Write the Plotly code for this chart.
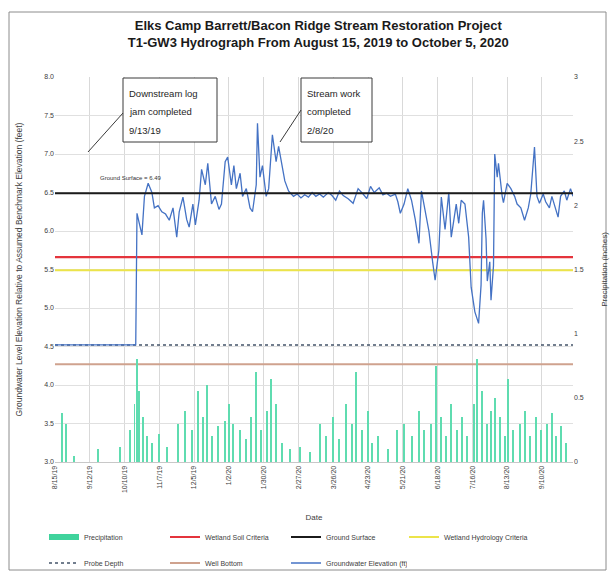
import plotly.graph_objects as go

# ---- groundwater record (T1-GW3), elevation in feet ----
GW_DATES = [
    "2019-08-15", "2019-10-19", "2019-10-20", "2019-10-21", "2019-10-24", "2019-10-26",
    "2019-10-29", "2019-11-01", "2019-11-03", "2019-11-06", "2019-11-09", "2019-11-12",
    "2019-11-15", "2019-11-18", "2019-11-21", "2019-11-23", "2019-11-26", "2019-11-29",
    "2019-12-01", "2019-12-04", "2019-12-06", "2019-12-09", "2019-12-11", "2019-12-14",
    "2019-12-16", "2019-12-19", "2019-12-22", "2019-12-25", "2019-12-27", "2019-12-30",
    "2020-01-01", "2020-01-04", "2020-01-06", "2020-01-08", "2020-01-11", "2020-01-13",
    "2020-01-16", "2020-01-19", "2020-01-21", "2020-01-24", "2020-01-25", "2020-01-27",
    "2020-01-29", "2020-02-01", "2020-02-03", "2020-02-06", "2020-02-09", "2020-02-11",
    "2020-02-14", "2020-02-16", "2020-02-19", "2020-02-23", "2020-02-26", "2020-02-29",
    "2020-03-03", "2020-03-06", "2020-03-09", "2020-03-12", "2020-03-15", "2020-03-18",
    "2020-03-22", "2020-03-25", "2020-03-28", "2020-03-31", "2020-04-03", "2020-04-07",
    "2020-04-11", "2020-04-15", "2020-04-19", "2020-04-22", "2020-04-25", "2020-04-28",
    "2020-05-02", "2020-05-05", "2020-05-08", "2020-05-11", "2020-05-15", "2020-05-17",
    "2020-05-19", "2020-05-22", "2020-05-25", "2020-05-28", "2020-05-31", "2020-06-03",
    "2020-06-05", "2020-06-08", "2020-06-11", "2020-06-14", "2020-06-16", "2020-06-19",
    "2020-06-21", "2020-06-24", "2020-06-27", "2020-06-29", "2020-07-03", "2020-07-05",
    "2020-07-07", "2020-07-10", "2020-07-13", "2020-07-15", "2020-07-18", "2020-07-21",
    "2020-07-23", "2020-07-24", "2020-07-25", "2020-07-27", "2020-07-28", "2020-07-30",
    "2020-07-31", "2020-08-02", "2020-08-03", "2020-08-05", "2020-08-06", "2020-08-09",
    "2020-08-10", "2020-08-13", "2020-08-16", "2020-08-19", "2020-08-21", "2020-08-24",
    "2020-08-27", "2020-08-30", "2020-09-01", "2020-09-04", "2020-09-06", "2020-09-08",
    "2020-09-11", "2020-09-13", "2020-09-16", "2020-09-18", "2020-09-20", "2020-09-23",
    "2020-09-25", "2020-09-28", "2020-09-30", "2020-10-03", "2020-10-05",
]
GW_LEVELS = [
    4.52, 4.52, 6.23, 6.15, 5.95, 6.45,
    6.62, 6.50, 6.30, 6.33, 6.25, 6.22,
    6.14, 6.30, 5.92, 6.25, 6.44, 6.15,
    6.05, 6.35, 6.08, 6.40, 6.80, 6.60,
    6.88, 6.35, 6.45, 6.28, 6.35, 6.90,
    6.96, 6.60, 6.85, 6.55, 6.75, 6.45,
    6.55, 6.30, 6.25, 6.60, 7.40, 6.70,
    6.85, 6.45, 6.55, 7.25, 6.90, 7.10,
    6.80, 6.65, 6.52, 6.45, 6.48, 6.43,
    6.47, 6.44, 6.50, 6.45, 6.48, 6.44,
    6.50, 6.46, 6.40, 6.52, 6.46, 6.42,
    6.36, 6.55, 6.48, 6.42, 6.58, 6.50,
    6.56, 6.47, 6.49, 6.45, 6.48, 6.38,
    6.23, 6.35, 6.55, 6.40, 6.15, 5.84,
    6.52, 6.25, 6.00, 5.60, 5.36, 5.75,
    6.44, 6.02, 6.50, 5.92, 6.35, 6.10,
    6.40, 6.35, 5.92, 5.27, 4.95, 4.80,
    5.30, 6.23, 6.40, 5.90, 5.35, 5.60,
    5.10, 5.55, 7.00, 6.70, 6.88, 6.45,
    6.37, 6.62, 6.55, 6.45, 6.35, 6.30,
    6.14, 6.30, 6.48, 7.09, 6.45, 6.36,
    6.48, 6.38, 6.30, 6.45, 6.35, 6.18,
    6.45, 6.52, 6.40, 6.55, 6.45,
]

# ---- daily precipitation, inches ----
RAIN_DATES = [
    "2019-08-21", "2019-08-24", "2019-08-30", "2019-09-19", "2019-10-06", "2019-10-14",
    "2019-10-18", "2019-10-20", "2019-10-22", "2019-10-25", "2019-10-28", "2019-11-01",
    "2019-11-07", "2019-11-13", "2019-11-22", "2019-11-28", "2019-12-03", "2019-12-08",
    "2019-12-12", "2019-12-15", "2019-12-19", "2019-12-24", "2019-12-30", "2020-01-02",
    "2020-01-05", "2020-01-11", "2020-01-16", "2020-01-20", "2020-01-24", "2020-01-28",
    "2020-02-02", "2020-02-05", "2020-02-09", "2020-02-14", "2020-02-20", "2020-02-28",
    "2020-03-07", "2020-03-15", "2020-03-20", "2020-03-26", "2020-03-31", "2020-04-05",
    "2020-04-10", "2020-04-13", "2020-04-18", "2020-04-23", "2020-04-26", "2020-05-01",
    "2020-05-09", "2020-05-16", "2020-05-22", "2020-05-28", "2020-06-03", "2020-06-07",
    "2020-06-13", "2020-06-17", "2020-06-21", "2020-06-25", "2020-06-29", "2020-07-04",
    "2020-07-08", "2020-07-12", "2020-07-17", "2020-07-20", "2020-07-24", "2020-07-28",
    "2020-07-31", "2020-08-03", "2020-08-07", "2020-08-11", "2020-08-14", "2020-08-18",
    "2020-08-23", "2020-08-27", "2020-08-31", "2020-09-05", "2020-09-09", "2020-09-14",
    "2020-09-18", "2020-09-21", "2020-09-25", "2020-09-29",
]
RAIN_INCHES = [
    0.38, 0.30, 0.05, 0.10, 0.12, 0.25,
    0.45, 0.80, 0.55, 0.35, 0.20, 0.15,
    0.22, 0.12, 0.30, 0.40, 0.25, 0.55,
    0.35, 0.60, 0.20, 0.28, 0.32, 0.45,
    0.30, 0.25, 0.18, 0.35, 0.70, 0.25,
    0.40, 0.65, 0.45, 0.15, 0.10, 0.12,
    0.08, 0.30, 0.20, 0.35, 0.18, 0.45,
    0.30, 0.70, 0.25, 0.40, 0.15, 0.20,
    0.10, 0.25, 0.30, 0.20, 0.40, 0.25,
    0.30, 0.75, 0.35, 0.20, 0.45, 0.25,
    0.35, 0.20, 0.45, 0.80, 0.55, 0.30,
    0.40, 0.50, 0.35, 0.20, 0.65, 0.25,
    0.30, 0.40, 0.20, 0.35, 0.25, 0.30,
    0.38, 0.20, 0.28, 0.15,
]

# ---- reference elevations, feet ----
GROUND_SURFACE = 6.49
WETLAND_SOIL = 5.66
WETLAND_HYDROLOGY = 5.49
PROBE_DEPTH = 4.52
WELL_BOTTOM = 4.27

START, END = "2019-08-15", "2020-10-05"
X_TICK_STEP_DAYS = 28

FONT = "Arial, Liberation Sans, sans-serif"
TEXT = "#404040"
W, H = 612, 575
PL, PR, PT, PB = 55, 39, 77, 113          # plot-area margins in px
PW, PH = W - PL - PR, H - PT - PB

RAIN_GREEN = "#3fd39c"


def px_x(px):
    return (px - PL) / PW


def px_y(py):
    return (H - PB - py) / PH


def flat(name, value, color, width, dash, legend):
    return go.Scatter(
        x=[START, END], y=[value, value], mode="lines", name=name,
        line=dict(color=color, width=width, dash=dash), legend=legend,
        hoverinfo="skip",
    )


fig = go.Figure()

fig.add_trace(go.Bar(
    x=RAIN_DATES, y=RAIN_INCHES, name="Precipitation", yaxis="y2",
    marker=dict(color="#5fdcb0", line=dict(width=0)),
    width=0.8 * 86400000, showlegend=False,
))
# legend key for the precipitation bars (drawn as a wide swatch)
fig.add_trace(go.Scatter(
    x=[None], y=[None], mode="lines", name="Precipitation",
    line=dict(color=RAIN_GREEN, width=6), legend="legend",
))
fig.add_trace(flat("Wetland Soil Criteria", WETLAND_SOIL, "#e4343c", 2.2, "solid", "legend"))
fig.add_trace(flat("Wetland Hydrology Criteria", WETLAND_HYDROLOGY, "#ece44a", 2.2, "solid", "legend3"))
fig.add_trace(flat("Probe Depth", PROBE_DEPTH, "#44546a", 1.6, "dot", "legend2"))
fig.add_trace(flat("Well Bottom", WELL_BOTTOM, "#cfa28e", 2.0, "solid", "legend2"))
fig.add_trace(go.Scatter(
    x=GW_DATES, y=GW_LEVELS, mode="lines", name="Groundwater Elevation (ft)",
    line=dict(color="#4472c4", width=1.3), legend="legend2",
))
fig.add_trace(flat("Ground Surface", GROUND_SURFACE, "#1b1b1b", 2.2, "solid", "legend"))

# legend order within each row
RANK = {"Precipitation": 1, "Wetland Soil Criteria": 2, "Ground Surface": 3,
        "Wetland Hydrology Criteria": 4, "Probe Depth": 5, "Well Bottom": 6,
        "Groundwater Elevation (ft)": 7}
for tr in fig.data:
    if tr.name in RANK:
        tr.legendrank = RANK[tr.name]

# ---- callout boxes (px geometry) ----
CALLOUTS = [
    # (box left, box right, leader start (x, y), leader end (x, y), lines)
    (123, 217, (123, 113), (88, 152), ["Downstream log", "jam completed", "9/13/19"]),
    (301, 372, (301, 110), (280, 142), ["Stream work", "completed", "2/8/20"]),
]
BOX_TOP, BOX_BOTTOM = 78, 142
LINE_Y = [93, 111.5, 130]

shapes = [dict(
    type="rect", xref="paper", yref="paper",
    x0=px_x(9), x1=px_x(606), y0=px_y(570), y1=px_y(12),
    line=dict(color="#8c8c8c", width=1), fillcolor="rgba(0,0,0,0)", layer="below",
)]
annotations = []
for left, right, (sx, sy), (ex, ey), lines in CALLOUTS:
    shapes.append(dict(
        type="rect", xref="paper", yref="paper",
        x0=px_x(left), x1=px_x(right), y0=px_y(BOX_BOTTOM), y1=px_y(BOX_TOP),
        line=dict(color="#3a3a3a", width=1), fillcolor="white",
    ))
    shapes.append(dict(
        type="line", xref="paper", yref="paper",
        x0=px_x(sx), y0=px_y(sy), x1=px_x(ex), y1=px_y(ey),
        line=dict(color="#3a3a3a", width=1),
    ))
    for txt, ly in zip(lines, LINE_Y):
        annotations.append(dict(
            x=px_x(left + 4), y=px_y(ly), xref="paper", yref="paper",
            xanchor="left", yanchor="middle", text=txt, showarrow=False,
            font=dict(family=FONT, size=9.5, color="#262626"),
        ))

annotations.append(dict(
    x="2019-10-15", y=GROUND_SURFACE + 0.2, xref="x", yref="y",
    text=f"Ground Surface = {GROUND_SURFACE:.2f}", showarrow=False,
    font=dict(family=FONT, size=6, color="#333"),
))

legend_base = dict(
    orientation="h", xanchor="left", yanchor="middle", itemwidth=30,
    font=dict(family=FONT, size=7, color=TEXT), bgcolor="rgba(0,0,0,0)",
)
legend_grid = dict(legend_base, entrywidth=76, entrywidthmode="pixels")
LEGEND_X0 = 44
LEGEND_STEP = 120

fig.update_layout(
    width=W, height=H,
    margin=dict(l=PL, r=PR, t=PT, b=PB, autoexpand=False),
    paper_bgcolor="white", plot_bgcolor="white",
    font=dict(family=FONT, size=7, color=TEXT),
    title=dict(
        text="<b>Elks Camp Barrett/Bacon Ridge Stream Restoration Project<br>"
             "T1-GW3 Hydrograph From August 15, 2019 to October 5, 2020</b>",
        x=0.52, xanchor="center", y=(H - 30) / H, yanchor="middle",
        font=dict(family=FONT, size=13, color="#1a1a1a"),
    ),
    xaxis=dict(
        type="date", range=[START, END],
        tick0=START, dtick=X_TICK_STEP_DAYS * 86400000,
        tickformat="%-m/%-d/%y", tickangle=-90,
        showgrid=True, gridcolor="#d9d9d9", gridwidth=1,
        showline=True, linecolor="#c8c8c8", ticks="",
        tickfont=dict(size=7),
        title=dict(text="Date", font=dict(size=8, color=TEXT), standoff=22),
    ),
    yaxis=dict(
        range=[3.0, 8.0], dtick=0.5, tickformat=".1f",
        showgrid=True, gridcolor="#e0e0e0", zeroline=False,
        showline=False, tickfont=dict(size=7),
        title=dict(text="Groundwater Level Elevation Relative to Assumed Benchmark Elevation (feet)",
                   font=dict(size=8.5, color=TEXT), standoff=20),
    ),
    yaxis2=dict(
        range=[0, 3], dtick=0.5, overlaying="y", side="right",
        showgrid=False, zeroline=False, tickfont=dict(size=7),
        title=dict(text="Precipitation (inches)", font=dict(size=8, color=TEXT), standoff=18),
    ),
    bargap=0,
    showlegend=True,
    legend=dict(x=px_x(LEGEND_X0), y=px_y(537), **legend_grid),
    legend3=dict(x=px_x(LEGEND_X0 + 3 * LEGEND_STEP), y=px_y(537), **legend_base),
    legend2=dict(x=px_x(LEGEND_X0), y=px_y(563), **legend_grid),
    annotations=annotations,
    shapes=shapes,
)

fig.write_html("out.html")
